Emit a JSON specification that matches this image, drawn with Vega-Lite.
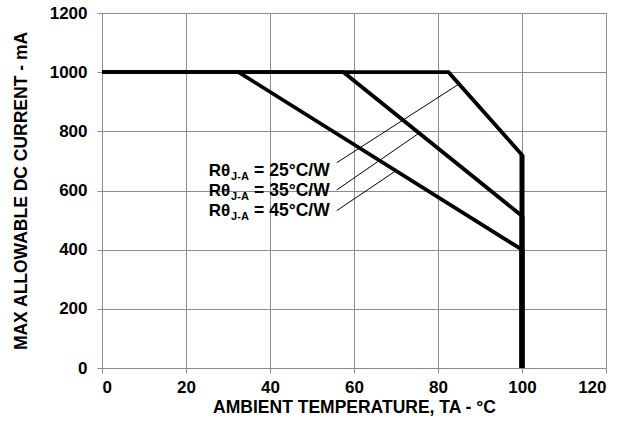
{
  "$schema": "https://vega.github.io/schema/vega-lite/v6.json",
  "width": 504,
  "height": 355,
  "autosize": {"type": "none"},
  "padding": {"left": 102, "top": 13, "right": 28, "bottom": 58},
  "background": "white",
  "config": {
    "font": "Liberation Sans",
    "view": {"stroke": "#8c8c8c", "strokeWidth": 1},
    "axis": {
      "gridColor": "#8c8c8c",
      "gridOpacity": 1,
      "gridWidth": 1,
      "domainColor": "#8c8c8c",
      "tickColor": "#8c8c8c",
      "tickSize": 5,
      "labelFont": "Liberation Sans",
      "labelFontWeight": "bold",
      "labelFontSize": 17,
      "labelColor": "black",
      "format": "d",
      "titleFont": "Liberation Sans",
      "titleFontWeight": "bold",
      "titleFontSize": 17.5,
      "titleColor": "black"
    }
  },
  "datasets": {
    "curves": [
      {"series": "45", "i": 0, "temp": 0, "current": 1000},
      {"series": "45", "i": 1, "temp": 32.5, "current": 1000},
      {"series": "45", "i": 2, "temp": 100, "current": 400},
      {"series": "45", "i": 3, "temp": 100, "current": 0},
      {"series": "35", "i": 0, "temp": 0, "current": 1000},
      {"series": "35", "i": 1, "temp": 57.5, "current": 1000},
      {"series": "35", "i": 2, "temp": 100, "current": 514},
      {"series": "35", "i": 3, "temp": 100, "current": 0},
      {"series": "25", "i": 0, "temp": 0, "current": 1000},
      {"series": "25", "i": 1, "temp": 82.5, "current": 1000},
      {"series": "25", "i": 2, "temp": 100, "current": 720},
      {"series": "25", "i": 3, "temp": 100, "current": 0}
    ],
    "leaders": [
      {"series": "25", "i": 0, "temp": 55.9, "current": 694},
      {"series": "25", "i": 1, "temp": 85, "current": 960},
      {"series": "35", "i": 0, "temp": 55.9, "current": 602},
      {"series": "35", "i": 1, "temp": 75.5, "current": 794},
      {"series": "45", "i": 0, "temp": 55.9, "current": 532},
      {"series": "45", "i": 1, "temp": 70, "current": 667}
    ],
    "labels": [
      {"main": "Rθ", "sub": "J-A", "rest": "= 25°C/W", "temp": 30.5, "current": 649},
      {"main": "Rθ", "sub": "J-A", "rest": "= 35°C/W", "temp": 30.5, "current": 582},
      {"main": "Rθ", "sub": "J-A", "rest": "= 45°C/W", "temp": 30.5, "current": 514}
    ]
  },
  "layer": [
    {
      "data": {"name": "curves"},
      "mark": {"type": "line", "color": "black", "strokeWidth": 3.8, "strokeJoin": "miter"},
      "encoding": {
        "x": {
          "field": "temp", "type": "quantitative",
          "scale": {"domain": [0, 120], "nice": false},
          "axis": {"values": [0, 20, 40, 60, 80, 100, 120], "labelPadding": 6, "titlePadding": 3, "title": "AMBIENT TEMPERATURE, TA - °C"}
        },
        "y": {
          "field": "current", "type": "quantitative",
          "scale": {"domain": [0, 1200], "nice": false},
          "axis": {"values": [0, 200, 400, 600, 800, 1000, 1200], "labelPadding": 10, "titlePadding": 19, "title": "MAX ALLOWABLE DC CURRENT - mA"}
        },
        "detail": {"field": "series"},
        "order": {"field": "i"}
      }
    },
    {
      "data": {"name": "curves"},
      "transform": [{"filter": "datum.temp == 100"}],
      "mark": {"type": "line", "color": "black", "strokeWidth": 5},
      "encoding": {
        "x": {"field": "temp", "type": "quantitative"},
        "y": {"field": "current", "type": "quantitative"},
        "detail": {"field": "series"},
        "order": {"field": "i"}
      }
    },
    {
      "data": {"name": "leaders"},
      "mark": {"type": "line", "color": "black", "strokeWidth": 1},
      "encoding": {
        "x": {"field": "temp", "type": "quantitative"},
        "y": {"field": "current", "type": "quantitative"},
        "detail": {"field": "series"},
        "order": {"field": "i"}
      }
    },
    {
      "data": {"name": "labels"},
      "mark": {"type": "text", "align": "right", "baseline": "alphabetic", "fontWeight": "bold", "fontSize": 17, "color": "black"},
      "encoding": {
        "x": {"field": "temp", "type": "quantitative"},
        "y": {"field": "current", "type": "quantitative"},
        "text": {"field": "main"}
      }
    },
    {
      "data": {"name": "labels"},
      "mark": {"type": "text", "align": "left", "baseline": "alphabetic", "dx": 1, "dy": 4, "fontWeight": "bold", "fontSize": 11, "color": "black"},
      "encoding": {
        "x": {"field": "temp", "type": "quantitative"},
        "y": {"field": "current", "type": "quantitative"},
        "text": {"field": "sub"}
      }
    },
    {
      "data": {"name": "labels"},
      "mark": {"type": "text", "align": "left", "baseline": "alphabetic", "dx": 24, "fontWeight": "bold", "fontSize": 17.5, "color": "black"},
      "encoding": {
        "x": {"field": "temp", "type": "quantitative"},
        "y": {"field": "current", "type": "quantitative"},
        "text": {"field": "rest"}
      }
    }
  ]
}
